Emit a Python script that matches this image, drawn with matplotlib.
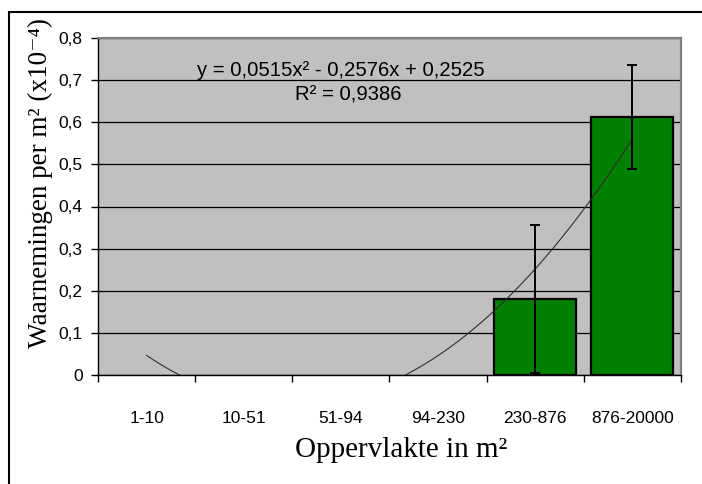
import matplotlib
matplotlib.use('Agg')
import matplotlib.pyplot as plt
import numpy as np
from matplotlib.patches import Rectangle
from matplotlib.ticker import FuncFormatter

# data
categories = ['1-10', '10-51', '51-94', '94-230', '230-876', '876-20000']
values = [0, 0, 0, 0, 0.181, 0.613]
errors = [0, 0, 0, 0, 0.176, 0.124]
trend_coef = [0.0515, -0.2576, 0.2525]   # y = a x^2 + b x + c, x = 1..6
trend_label = 'y = 0,0515x\u00b2 - 0,2576x + 0,2525'
r2_label = 'R\u00b2 = 0,9386'
y_ticks = [0, 0.1, 0.2, 0.3, 0.4, 0.5, 0.6, 0.7, 0.8]

sans = ['Liberation Sans', 'DejaVu Sans']
serif = ['Liberation Serif', 'DejaVu Serif']

W, H = 702, 484
fig = plt.figure(figsize=(W / 100, H / 100), dpi=100)
fig.patch.set_facecolor('white')

# plot area (pixels: x 98-681, y 38-375)
ax = fig.add_axes([98 / W, 1 - 375 / H, 583 / W, 337 / H])
ax.set_facecolor('#c0c0c0')

x = np.arange(len(categories))
vals = np.array(values)
errs = np.array(errors)
nz = vals > 0   # Excel draws nothing for empty bars

ax.bar(x[nz], vals[nz], width=0.845, color='#008000', edgecolor='black',
       linewidth=1.6, zorder=2)
ax.errorbar(x[nz], vals[nz], yerr=errs[nz], fmt='none', ecolor='black',
            elinewidth=1.4, capsize=3.5, capthick=1.4, zorder=4)

# polynomial trendline
xt = np.linspace(1, len(categories), 300)
yt = np.polyval(trend_coef, xt)
ax.plot(xt - 1, yt, color='#303030', linewidth=0.8, zorder=3)

ax.set_xlim(-0.5, len(categories) - 0.5)
ax.set_ylim(0, 0.8)

ax.set_yticks(y_ticks)
ax.yaxis.set_major_formatter(FuncFormatter(
    lambda v, p: '0' if abs(v) < 1e-9 else f'{v:.1f}'.replace('.', ',')))
ax.tick_params(axis='y', direction='out', length=5, width=1, pad=6,
               labelsize=12.5, colors='black')
for lab in ax.get_yticklabels():
    lab.set_family(sans)

ax.set_xticks(x)
ax.set_xticklabels(categories, family=sans, fontsize=12.5)
ax.set_xticks(np.arange(-0.5, len(categories)), minor=True)
ax.tick_params(axis='x', which='major', length=0, pad=26)
ax.tick_params(axis='x', which='minor', direction='out', length=5, width=1)

ax.yaxis.grid(True, color='black', linewidth=0.9, zorder=1)
ax.set_axisbelow(True)

for side in ['left', 'bottom']:
    ax.spines[side].set_color('black')
    ax.spines[side].set_linewidth(1.0)
for side in ['top', 'right']:
    ax.spines[side].set_color('#808080')
    ax.spines[side].set_linewidth(1.6)

ax.text(0.417, 0.905, trend_label, transform=ax.transAxes, ha='center',
        va='center', fontsize=14.6, family=sans, zorder=5)
ax.text(0.429, 0.831, r2_label, transform=ax.transAxes, ha='center',
        va='center', fontsize=14.6, family=sans, zorder=5)

# axis titles
fig.text(401 / W, 1 - 450 / H, 'Oppervlakte in m\u00b2', ha='center',
         va='center', fontsize=21, family=serif)
fig.text(40 / W, 1 - 183 / H, 'Waarnemingen per m\u00b2 (x10\u207b\u2074)',
         ha='center', va='center', rotation=90, fontsize=19.5, family=serif)

# outer chart border (runs off the right and bottom edge)
fig.patches.append(Rectangle((9 / W, -0.05), 1.1, 1.05 - 12 / H,
                             transform=fig.transFigure, fill=False,
                             edgecolor='black', linewidth=1.5))

fig.savefig('out.png', dpi=100)
